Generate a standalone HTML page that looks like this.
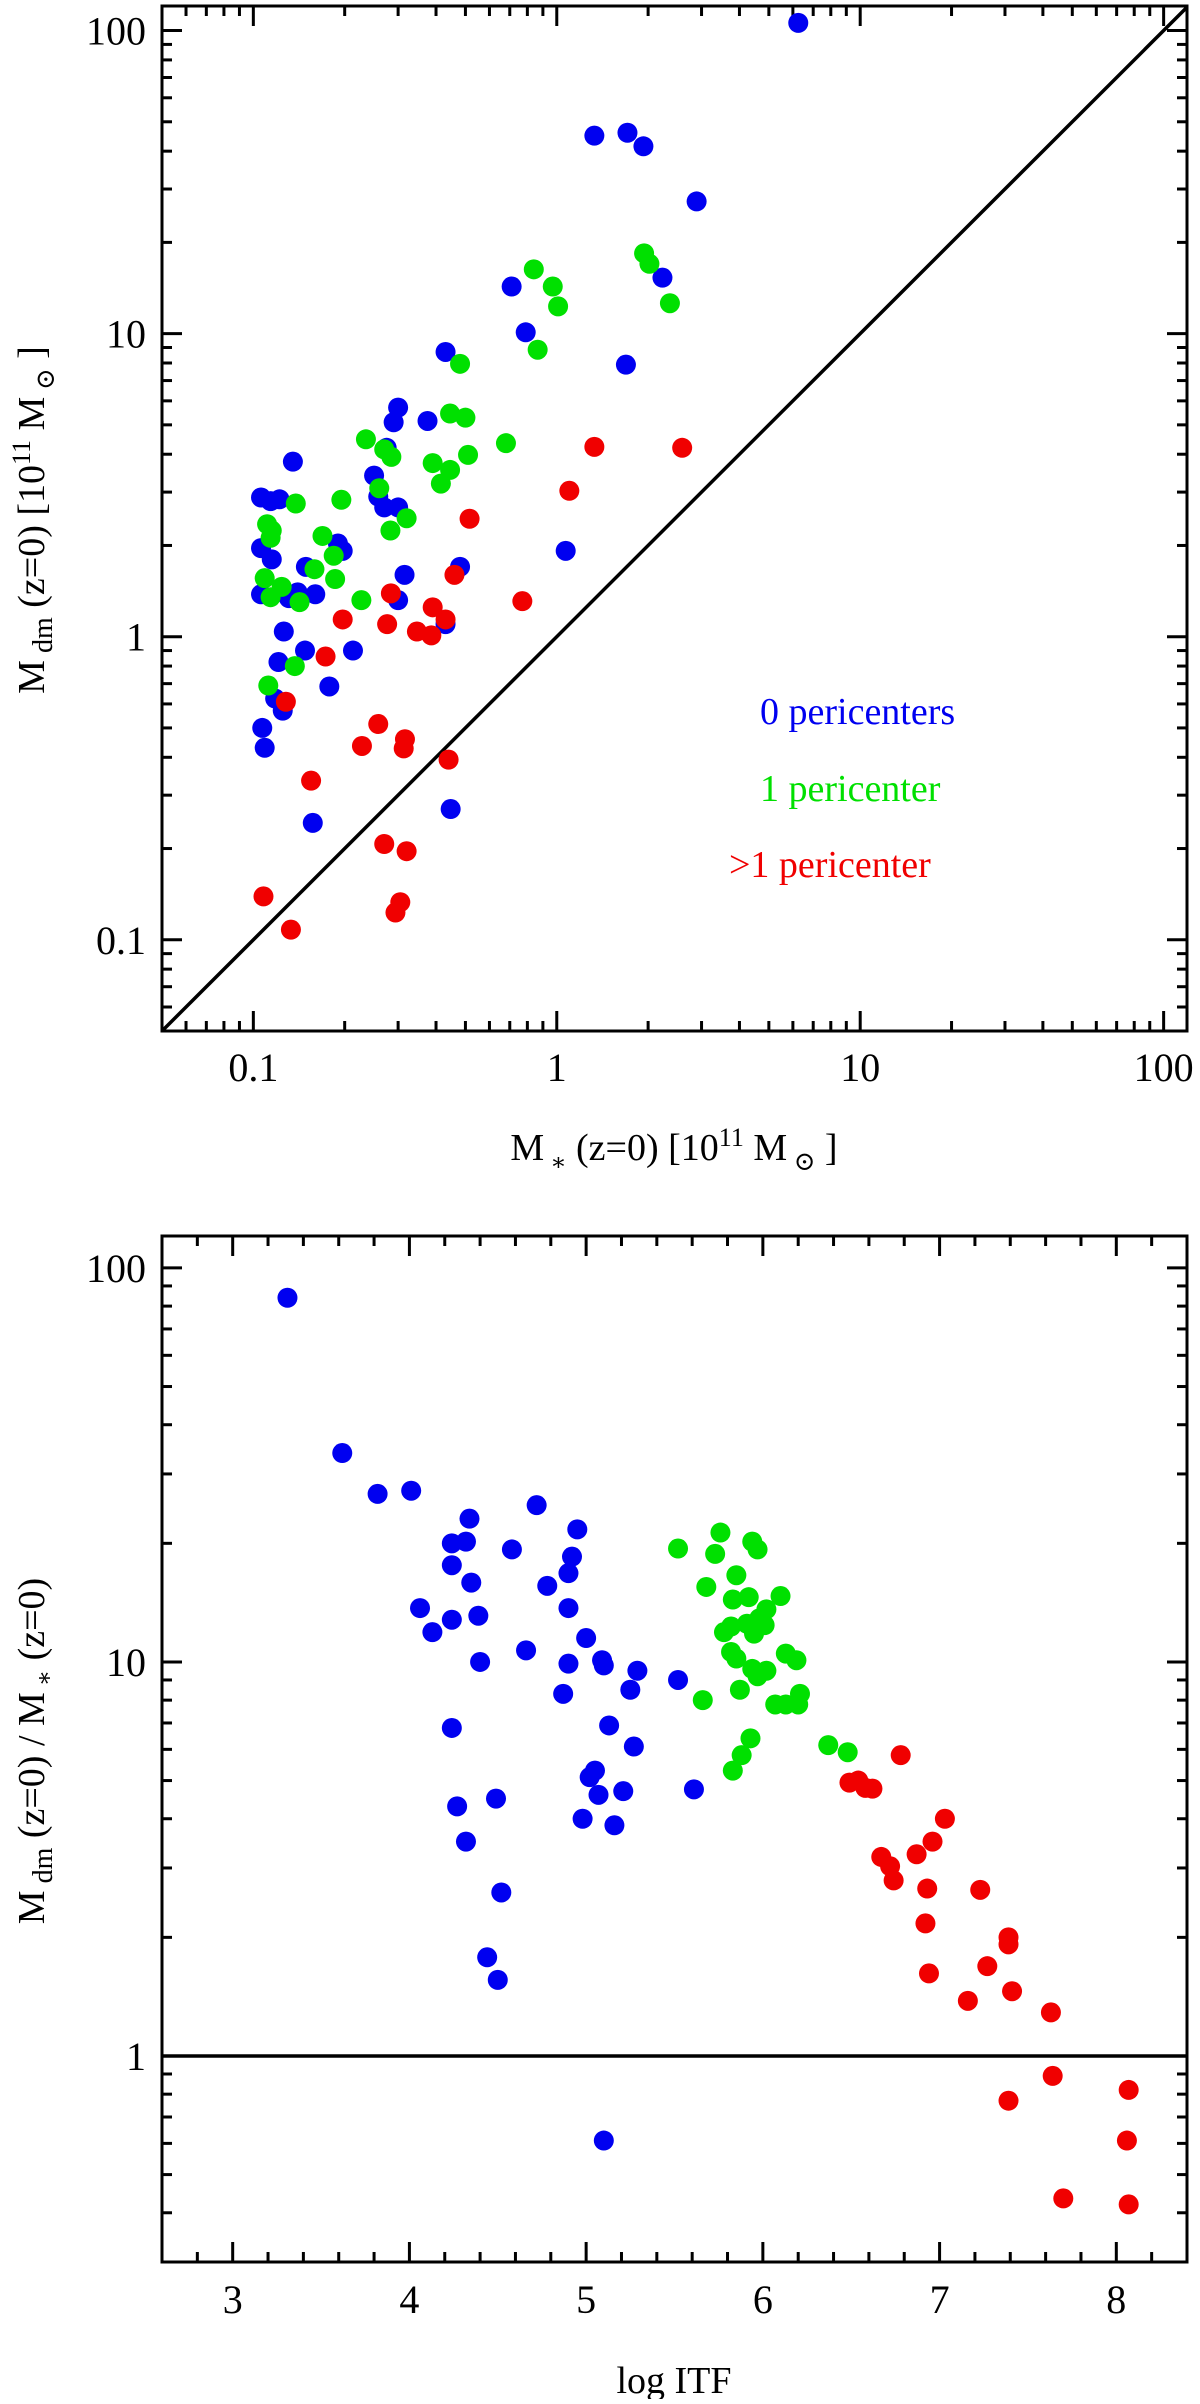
<!DOCTYPE html>
<html><head><meta charset="utf-8"><style>
html,body{margin:0;padding:0;background:#fff;}
svg, svg text, svg tspan{font-family:"Liberation Serif","DejaVu Serif","Times New Roman",serif;}
</style></head><body>
<svg id="chart" width="1200" height="2399" viewBox="0 0 1200 2399" xmlns="http://www.w3.org/2000/svg" font-family="Liberation Serif, DejaVu Serif, serif">
<g id="p1"></g>
<g id="p2"></g>
</svg>
<script>
// ---- Top panel data: M* vs Mdm ----
const topBlueX = [6.25,1.33,1.71,1.93,2.89,2.23,0.71,0.79,1.69,1.07,0.43,0.30,0.29,0.375,0.25,0.275,0.258,0.27,0.30,0.315,0.30,0.48,0.43,0.447,0.135,0.106,0.114,0.122,0.106,0.115,0.106,0.131,0.14,0.16,0.149,0.19,0.197,0.126,0.121,0.148,0.213,0.178,0.118,0.125,0.107,0.109,0.157];
const topBlueY = [106,45,46,41.5,27.3,15.3,14.3,10.1,7.9,1.92,8.7,5.7,5.1,5.15,3.4,4.2,2.9,2.67,2.67,1.6,1.32,1.7,1.1,0.27,3.78,2.88,2.8,2.84,1.96,1.8,1.38,1.34,1.4,1.38,1.7,2.03,1.92,1.04,0.825,0.90,0.90,0.685,0.625,0.57,0.50,0.43,0.243];
const topGreenX = [1.94,2.02,0.84,0.97,1.01,2.36,0.865,0.48,0.445,0.50,0.68,0.51,0.39,0.445,0.415,0.235,0.27,0.285,0.26,0.32,0.283,0.227,0.195,0.169,0.184,0.186,0.159,0.138,0.111,0.115,0.114,0.109,0.124,0.114,0.142,0.137,0.112];
const topGreenY = [18.4,17.0,16.3,14.3,12.3,12.6,8.85,7.95,5.45,5.28,4.35,3.98,3.74,3.55,3.20,4.48,4.15,3.92,3.09,2.46,2.24,1.32,2.83,2.15,1.85,1.55,1.67,2.75,2.35,2.24,2.12,1.56,1.46,1.35,1.30,0.80,0.69];
const topRedX = [1.33,2.59,1.10,0.516,0.77,0.46,0.284,0.39,0.43,0.197,0.276,0.346,0.386,0.173,0.128,0.258,0.228,0.316,0.313,0.44,0.155,0.27,0.32,0.108,0.305,0.294,0.133];
const topRedY = [4.23,4.2,3.03,2.45,1.31,1.60,1.39,1.25,1.14,1.14,1.10,1.04,1.01,0.86,0.61,0.515,0.436,0.459,0.428,0.393,0.335,0.207,0.196,0.139,0.133,0.123,0.108];
const topTicks = [0.1,1,10,100];
const topTickLabels = ["0.1","1","10","100"];

// ---- Bottom panel data: log ITF vs ratio ----
const botBlueX = [3.31,3.62,3.82,4.01,4.72,4.34,4.24,4.32,4.95,4.58,4.92,4.24,4.90,4.35,4.78,4.06,4.90,4.39,4.24,4.13,5.00,4.66,4.40,5.09,5.10,4.90,5.29,5.52,5.25,4.87,4.24,5.13,5.27,5.05,5.02,5.07,5.21,5.61,4.49,4.27,4.98,5.16,4.32,4.52,4.44,4.50,5.10];
const botBlueY = [84,33.9,26.7,27.2,25,23.1,20,20.2,21.7,19.3,18.5,17.6,16.8,15.9,15.6,13.7,13.7,13.1,12.8,11.9,11.5,10.7,10.0,10.1,9.8,9.9,9.5,9.0,8.5,8.3,6.8,6.9,6.1,5.3,5.1,4.6,4.7,4.75,4.5,4.3,4.0,3.85,3.5,2.6,1.78,1.56,0.61];
const botGreenX = [5.52,5.76,5.94,5.97,5.73,5.85,5.68,6.10,5.83,5.92,6.02,5.98,5.91,6.01,5.82,5.78,5.95,5.82,5.85,6.13,6.19,5.94,6.02,5.97,5.87,6.21,5.66,6.07,6.13,6.20,5.93,6.37,6.48,5.88,5.83];
const botGreenY = [19.4,21.3,20.2,19.3,18.8,16.6,15.5,14.7,14.4,14.6,13.6,12.9,12.5,12.4,12.3,11.9,11.8,10.6,10.2,10.5,10.1,9.6,9.5,9.2,8.5,8.3,8.0,7.8,7.8,7.8,6.4,6.15,5.9,5.8,5.3];
const botRedX = [6.78,6.49,6.54,6.58,6.62,7.03,6.96,6.67,6.87,6.72,6.74,6.93,7.23,6.92,7.39,7.39,7.27,6.94,7.41,7.16,7.63,7.64,7.39,8.07,8.06,7.70,8.07];
const botRedY = [5.8,4.94,5.0,4.79,4.77,4.0,3.5,3.2,3.25,3.03,2.79,2.66,2.64,2.17,2.0,1.92,1.69,1.62,1.46,1.38,1.29,0.89,0.77,0.82,0.61,0.435,0.42];
const botXTicks = [3,4,5,6,7,8];
const botXTickLabels = ["3","4","5","6","7","8"];
const botYTicks = [1,10,100];
const botYTickLabels = ["1","10","100"];

const NS = "http://www.w3.org/2000/svg";
const FF = "Liberation Serif, DejaVu Serif, serif";
function mk(parent, tag, attrs, text){
  const e = document.createElementNS(NS, tag);
  for (const k in attrs) e.setAttribute(k, attrs[k]);
  if (tag === 'text') e.setAttribute('font-family', FF);
  if (text !== undefined) e.textContent = text;
  parent.appendChild(e);
  return e;
}
const BLUE="#0000f0", GREEN="#00e000", RED="#f00000";

// ---------- TOP PANEL ----------
const p1 = document.getElementById('p1');
const T = {L:162,R:1187,T:6,B:1031, lx0:Math.log10(0.05), lx1:2.077, ly0:Math.log10(0.05), ly1:2.081};
const tx = v => T.L + (Math.log10(v)-T.lx0)/(T.lx1-T.lx0)*(T.R-T.L);
const ty = v => T.B - (Math.log10(v)-T.ly0)/(T.ly1-T.ly0)*(T.B-T.T);

for (let d=-2; d<=2; d++){
  for (let m=1; m<=9; m++){
    const v = m*Math.pow(10,d);
    const len = m===1?20:10;
    if (v>=0.05 && v<=119){
      const x = tx(v);
      const t1 = mk(p1,'line',{x1:x,y1:T.B,x2:x,y2:T.B-len,stroke:'#000','stroke-width':3});
      
      
      const t2 = mk(p1,'line',{x1:x,y1:T.T,x2:x,y2:T.T+len,stroke:'#000','stroke-width':3});
      
      
      const y = ty(v);
      const t3 = mk(p1,'line',{x1:T.L,y1:y,x2:T.L+len,y2:y,stroke:'#000','stroke-width':3});
      
      
      const t4 = mk(p1,'line',{x1:T.R,y1:y,x2:T.R-len,y2:y,stroke:'#000','stroke-width':3});
      
      
    }
  }
}
topTicks.forEach((v,i)=>{
  const a = mk(p1,'text',{x:tx(v),y:1081,'text-anchor':'middle','font-size':40},topTickLabels[i]);
  
  
  const b = mk(p1,'text',{x:146,y:ty(v)+14,'text-anchor':'end','font-size':40},topTickLabels[i]);
  
  
});
const diag = mk(p1,'line',{x1:tx(0.05),y1:ty(0.05),x2:tx(119),y2:ty(119),stroke:'#000','stroke-width':3.5});


function pts(g, xs, ys, fx, fy, col, name){
  xs.forEach((v,i)=>{
    const c = mk(g,'circle',{cx:fx(v),cy:fy(ys[i]),r:10,fill:col});
    
    
  });
}
pts(p1, topBlueX, topBlueY, tx, ty, BLUE, 'point-0-pericenters');
pts(p1, topGreenX, topGreenY, tx, ty, GREEN, 'point-1-pericenter');
pts(p1, topRedX, topRedY, tx, ty, RED, 'point-multi-pericenter');
const f1 = mk(p1,'rect',{x:T.L,y:T.T,width:T.R-T.L,height:T.B-T.T,fill:'none',stroke:'#000','stroke-width':3});


const lg1 = mk(p1,'text',{x:760,y:724,'font-size':38,fill:BLUE},'0 pericenters');


const lg2 = mk(p1,'text',{x:760,y:801,'font-size':38,fill:GREEN},'1 pericenter');


const lg3 = mk(p1,'text',{x:729,y:877,'font-size':38,fill:RED},'>1 pericenter');


const xt = mk(p1,'text',{x:674,y:1160,'text-anchor':'middle','font-size':38});


xt.setAttribute('xml:space','preserve');
xt.innerHTML = 'M<tspan font-size="24" dy="10"> ∗</tspan><tspan dy="-10"> (z=0)  [10</tspan><tspan font-size="26" dy="-14">11</tspan><tspan dy="14"> M</tspan><tspan font-size="26" dy="10"> ⊙</tspan><tspan dy="-10"> ]</tspan>';
const yt = mk(p1,'text',{x:0,y:0,'text-anchor':'middle','font-size':38,transform:'translate(44,520) rotate(-90)'});


yt.setAttribute('xml:space','preserve');
yt.innerHTML = 'M<tspan font-size="28" dy="8"> dm</tspan><tspan dy="-8"> (z=0)  [10</tspan><tspan font-size="26" dy="-14">11</tspan><tspan dy="14"> M</tspan><tspan font-size="26" dy="10"> ⊙</tspan><tspan dy="-10"> ]</tspan>';

// ---------- BOTTOM PANEL ----------
const p2 = document.getElementById('p2');
const B = {L:162,R:1187,T:1236,B:2262, x0:2.6, x1:8.4, ly0:Math.log10(0.3), ly1:2.081};
const bx = v => B.L + (v-B.x0)/(B.x1-B.x0)*(B.R-B.L);
const by = v => B.B - (Math.log10(v)-B.ly0)/(B.ly1-B.ly0)*(B.B-B.T);

for (let k=13; k<=42; k++){
  const v = k/5;
  const len = (k%5===0)?20:10;
  const x = bx(v);
  const t1 = mk(p2,'line',{x1:x,y1:B.B,x2:x,y2:B.B-len,stroke:'#000','stroke-width':3});
  
  
  const t2 = mk(p2,'line',{x1:x,y1:B.T,x2:x,y2:B.T+len,stroke:'#000','stroke-width':3});
  
  
}
for (let d=-1; d<=2; d++){
  for (let m=1; m<=9; m++){
    const v = m*Math.pow(10,d);
    if (v<0.3 || v>110) continue;
    const len = m===1?20:10;
    const y = by(v);
    const t3 = mk(p2,'line',{x1:B.L,y1:y,x2:B.L+len,y2:y,stroke:'#000','stroke-width':3});
    
    
    const t4 = mk(p2,'line',{x1:B.R,y1:y,x2:B.R-len,y2:y,stroke:'#000','stroke-width':3});
    
    
  }
}
botXTicks.forEach((v,i)=>{
  const a = mk(p2,'text',{x:bx(v),y:2313,'text-anchor':'middle','font-size':40},botXTickLabels[i]);
  
  
});
botYTicks.forEach((v,i)=>{
  const b = mk(p2,'text',{x:146,y:by(v)+14,'text-anchor':'end','font-size':40},botYTickLabels[i]);
  
  
});
const hl = mk(p2,'line',{x1:B.L,y1:by(1),x2:B.R,y2:by(1),stroke:'#000','stroke-width':3.5});


pts(p2, botBlueX, botBlueY, bx, by, BLUE, 'point-0-pericenters');
pts(p2, botGreenX, botGreenY, bx, by, GREEN, 'point-1-pericenter');
pts(p2, botRedX, botRedY, bx, by, RED, 'point-multi-pericenter');
const f2 = mk(p2,'rect',{x:B.L,y:B.T,width:B.R-B.L,height:B.B-B.T,fill:'none',stroke:'#000','stroke-width':3});


const xt2 = mk(p2,'text',{x:674,y:2393,'text-anchor':'middle','font-size':38},'log ITF');


const yt2 = mk(p2,'text',{x:0,y:0,'text-anchor':'middle','font-size':38,transform:'translate(44,1751) rotate(-90)'});


yt2.setAttribute('xml:space','preserve');
yt2.innerHTML = 'M<tspan font-size="28" dy="8"> dm</tspan><tspan dy="-8"> (z=0) / M</tspan><tspan font-size="24" dy="8"> ∗</tspan><tspan dy="-8"> (z=0)</tspan>';
</script>
</body></html>
